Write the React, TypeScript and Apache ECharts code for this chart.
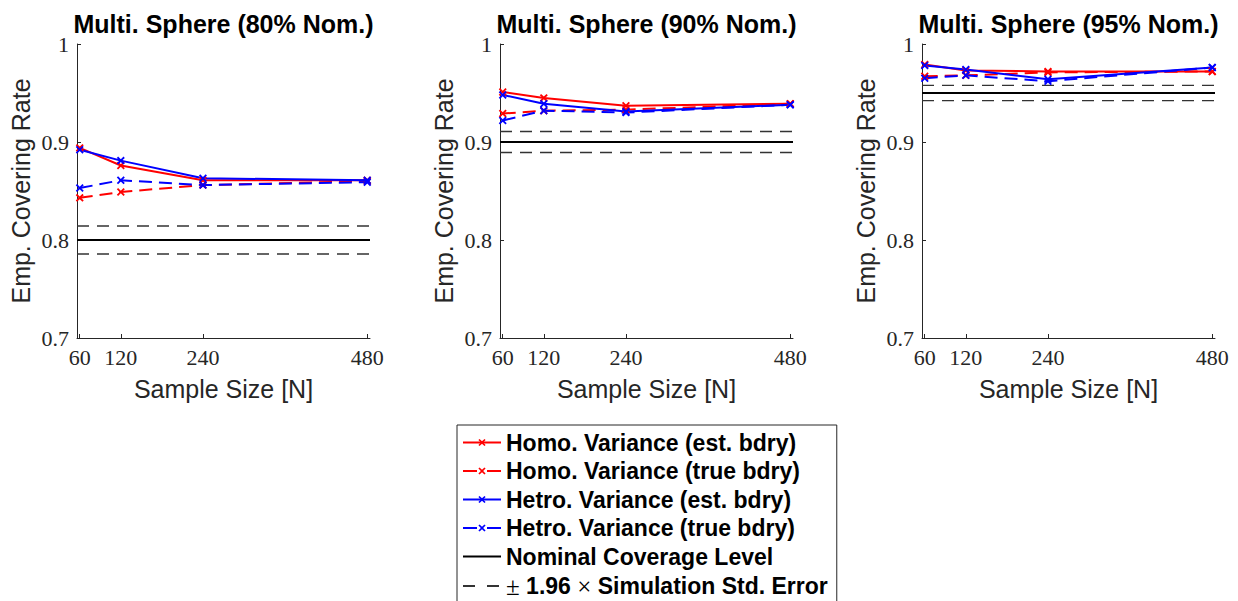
import { useEffect, useRef } from 'react';
import * as echarts from 'echarts';

// Sample sizes on the x axis
const sampleSizes = [60, 120, 240, 480];
const xTicks = [60, 120, 240, 480];
const yTicks = [0.7, 0.8, 0.9, 1];
const yTickLabels = ['0.7', '0.8', '0.9', '1'];

const panelTitles = [
  'Multi. Sphere (80% Nom.)',
  'Multi. Sphere (90% Nom.)',
  'Multi. Sphere (95% Nom.)',
];

// Nominal coverage and simulation standard-error band per panel
const nominalLevels = [0.8, 0.9, 0.95];
const stdErrLower = [0.7857, 0.8893, 0.9422];
const stdErrUpper = [0.8143, 0.9107, 0.9578];

// 80% nominal
const homoEst80 = [0.894, 0.876, 0.861, 0.861];
const homoTrue80 = [0.843, 0.849, 0.856, 0.860];
const hetroEst80 = [0.892, 0.881, 0.863, 0.861];
const hetroTrue80 = [0.853, 0.861, 0.856, 0.859];

// 90% nominal
const homoEst90 = [0.951, 0.945, 0.937, 0.939];
const homoTrue90 = [0.929, 0.932, 0.933, 0.939];
const hetroEst90 = [0.948, 0.939, 0.931, 0.938];
const hetroTrue90 = [0.922, 0.932, 0.930, 0.938];

// 95% nominal
const homoEst95 = [0.979, 0.973, 0.972, 0.972];
const homoTrue95 = [0.967, 0.968, 0.971, 0.972];
const hetroEst95 = [0.978, 0.974, 0.964, 0.976];
const hetroTrue95 = [0.965, 0.968, 0.962, 0.976];

const NAMES = [
  'Homo. Variance (est. bdry)',
  'Homo. Variance (true bdry)',
  'Hetro. Variance (est. bdry)',
  'Hetro. Variance (true bdry)',
  'Nominal Coverage Level',
  '± 1.96 × Simulation Std. Error',
];

const X_MIN = 56;
const X_MAX = 484;

const GRID_LEFTS = [77, 500, 922];
const GRID_TOP = 44;
const GRID_W = 293;
const GRID_H = 294;

const RED = '#ff0000';
const BLUE = '#0000ff';
const AXIS = '#262626';
const SANS = '"Liberation Sans", Arial, Helvetica, sans-serif';
const SERIF = '"Liberation Serif", "Times New Roman", serif';

// "x" marker as a filled cross outline
const X_MARK =
  'path://M0,1.6L1.6,0L5,3.4L8.4,0L10,1.6L6.6,5L10,8.4L8.4,10L5,6.6L1.6,10L0,8.4L3.4,5Z';

export default function App() {
  const ref = useRef<HTMLDivElement>(null);

  useEffect(() => {
    document.body.style.margin = '0';
    if (!ref.current) return;
    const chart = echarts.init(ref.current, null, { renderer: 'svg' });

    const panels = [
      [homoEst80, homoTrue80, hetroEst80, hetroTrue80],
      [homoEst90, homoTrue90, hetroEst90, hetroTrue90],
      [homoEst95, homoTrue95, hetroEst95, hetroTrue95],
    ];
    const colors = [RED, RED, BLUE, BLUE];
    const dashed = [false, true, false, true];

    const grids: any[] = [];
    const xAxes: any[] = [];
    const yAxes: any[] = [];
    const series: any[] = [];
    const graphics: any[] = [];

    panels.forEach((sets, p) => {
      grids.push({
        left: GRID_LEFTS[p],
        top: GRID_TOP,
        width: GRID_W,
        height: GRID_H,
        containLabel: false,
        outerBoundsMode: 'none',
      });
      xAxes.push({
        type: 'value',
        gridIndex: p,
        min: X_MIN,
        max: X_MAX,
        name: 'Sample Size [N]',
        nameLocation: 'middle',
        nameGap: 38,
        nameTextStyle: { fontFamily: SANS, fontSize: 25, color: AXIS },
        axisLine: { lineStyle: { color: AXIS, width: 1 } },
        axisTick: { inside: true, length: 4, customValues: xTicks, lineStyle: { color: AXIS } },
        axisLabel: {
          customValues: xTicks,
          fontFamily: SERIF,
          fontSize: 22,
          color: AXIS,
          margin: 8,
        },
        splitLine: { show: false },
      });
      yAxes.push({
        type: 'value',
        gridIndex: p,
        min: 0.7,
        max: 1,
        name: 'Emp. Covering Rate',
        nameLocation: 'middle',
        nameGap: 44,
        nameTextStyle: { fontFamily: SANS, fontSize: 25, color: AXIS },
        axisLine: { show: true, lineStyle: { color: AXIS, width: 1 } },
        axisTick: { show: true, inside: true, length: 4, customValues: yTicks, lineStyle: { color: AXIS } },
        axisLabel: {
          customValues: yTicks,
          fontFamily: SERIF,
          fontSize: 22,
          color: AXIS,
          margin: 8,
          formatter: (v: number) => {
            let best = 0;
            yTicks.forEach((t, i) => {
              if (Math.abs(t - v) < Math.abs(yTicks[best] - v)) best = i;
            });
            return yTickLabels[best];
          },
        },
        splitLine: { show: false },
      });

      sets.forEach((vals, k) => {
        series.push({
          type: 'line',
          name: NAMES[k],
          xAxisIndex: p,
          yAxisIndex: p,
          data: sampleSizes.map((x, i) => [x, vals[i]]),
          symbol: X_MARK,
          symbolSize: 8,
          showSymbol: true,
          lineStyle: { color: colors[k], width: 2, type: dashed[k] ? [13, 7] : 'solid' },
          itemStyle: { color: colors[k], borderWidth: 0 },
          emphasis: { disabled: true },
          z: 3,
        });
      });

      series.push({
        type: 'line',
        name: NAMES[4],
        xAxisIndex: p,
        yAxisIndex: p,
        data: [
          [X_MIN, nominalLevels[p]],
          [X_MAX, nominalLevels[p]],
        ],
        symbol: 'none',
        lineStyle: { color: '#000', width: 2 },
        itemStyle: { color: 'rgba(0,0,0,0)', borderWidth: 0 },
        emphasis: { disabled: true },
        z: 2,
      });
      [stdErrLower[p], stdErrUpper[p]].forEach((v) => {
        series.push({
          type: 'line',
          name: NAMES[5],
          xAxisIndex: p,
          yAxisIndex: p,
          data: [
            [X_MIN, v],
            [X_MAX, v],
          ],
          symbol: 'none',
          lineStyle: { color: '#333', width: 1.3, type: [12, 8] },
          itemStyle: { color: 'rgba(0,0,0,0)', borderWidth: 0 },
          emphasis: { disabled: true },
          z: 2,
        });
      });

      graphics.push({
        type: 'text',
        x: GRID_LEFTS[p] + GRID_W / 2,
        y: 24,
        style: {
          text: panelTitles[p],
          textAlign: 'center',
          textVerticalAlign: 'middle',
          font: `bold 25px ${SANS}`,
          fill: '#000',
        },
      });
    });

    chart.setOption({
      animation: false,
      backgroundColor: '#fff',
      grid: grids,
      xAxis: xAxes,
      yAxis: yAxes,
      series,
      graphic: graphics,
      legend: {
        left: 457,
        top: 425,
        height: 200,
        orient: 'vertical',
        selectedMode: false,
        backgroundColor: '#fff',
        borderColor: AXIS,
        borderWidth: 1,
        borderRadius: 0,
        padding: [6, 9, 3, 5],
        itemWidth: 38,
        itemHeight: 9,
        itemGap: 5.5,
        itemTextGap: 5,
        data: [
          { name: NAMES[0] },
          { name: NAMES[1], lineStyle: { type: [14, 10] } },
          { name: NAMES[2] },
          { name: NAMES[3], lineStyle: { type: [14, 10] } },
          { name: NAMES[4] },
          { name: NAMES[5], lineStyle: { type: [12, 12] } },
        ],
        formatter: (name: string) =>
          name === NAMES[5] ? '{m|±} 1.96 {m|×} Simulation Std. Error' : name,
        textStyle: {
          fontFamily: SANS,
          fontWeight: 'bold',
          fontSize: 23,
          lineHeight: 22,
          color: '#000',
          rich: {
            m: { fontFamily: SERIF, fontWeight: 'normal', fontSize: 25, lineHeight: 22, color: '#000' },
          },
        },
      },
    });

    return () => chart.dispose();
  }, []);

  return <div ref={ref} style={{ width: 1238, height: 601 }} />;
}
